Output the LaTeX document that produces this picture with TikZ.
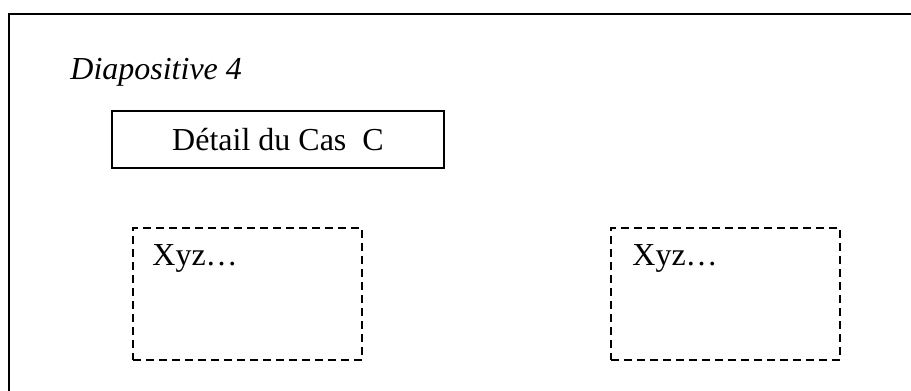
\documentclass[tikz,border=0pt]{standalone}
\usepackage{fontspec}
\setmainfont{Liberation Serif}
\usetikzlibrary{positioning, calc}
\tikzset{
  titlebox/.style={draw, line width=1pt, minimum width=166pt, minimum height=28.5pt, inner sep=0pt, font=\fontsize{16}{19}\selectfont},
  zone/.style={draw, line width=1pt, dash pattern=on 4pt off 2.5pt, minimum width=114.5pt, minimum height=66pt, inner sep=0pt},
  zonetext/.style={anchor=base west, inner sep=0pt, font=\fontsize{16}{19}\selectfont}
}
\begin{document}
\begin{tikzpicture}[x=0.5pt, y=-0.5pt]
  \useasboundingbox (0,0) rectangle (911,391);
  \clip (0,0) rectangle (911,391);
  % slide frame, cut at the right and bottom
  \draw[line width=1pt] (9,14) rectangle (940,420);

  \node[anchor=base west, inner sep=0pt, font=\fontsize{16}{19}\selectfont\itshape] (slide) at (70,79) {Diapositive 4};
  \node[titlebox] (detail) at (278,139.5) {Détail du Cas~~C};

  \node[zone] (zoneA) at (247.5,294) {};
  \node[zone, right=123.5pt of zoneA] (zoneB) {};
  \node[zonetext] (xyzA) at ($(zoneA.north west)+(20,38)$) {Xyz…};
  \node[zonetext] (xyzB) at ($(zoneB.north west)+(22,38)$) {Xyz…};
\end{tikzpicture}
\end{document}
